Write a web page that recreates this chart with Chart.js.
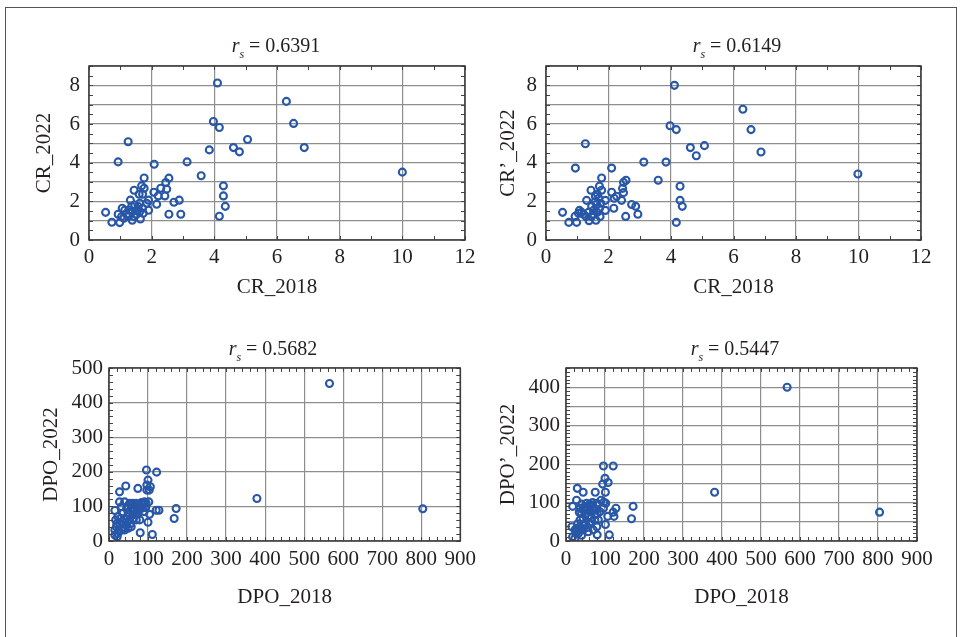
<!DOCTYPE html>
<html>
<head>
<meta charset="utf-8">
<script src="https://cdn.jsdelivr.net/npm/chart.js@4.4.1/dist/chart.umd.min.js"></script>
<style>
  body { margin: 0; background: #fff; }
  #page { position: relative; width: 965px; height: 637px; overflow: hidden; background: #fff; }
  #frame { position: absolute; left: 5px; top: 7px; width: 950px; height: 700px; border: 1.5px solid #555; }
  canvas { position: absolute; }
</style>
</head>
<body>
<div id="page">
  <div id="frame"></div>
  <canvas id="c1" width="482" height="318" style="left:0;top:0"></canvas>
  <canvas id="c2" width="483" height="318" style="left:482px;top:0"></canvas>
  <canvas id="c3" width="482" height="319" style="left:0;top:318px"></canvas>
  <canvas id="c4" width="483" height="319" style="left:482px;top:318px"></canvas>
</div>
<script>
// Panel titles (Spearman coefficients)
const rsValues = ['0.6391', '0.6149', '0.5682', '0.5447'];

// Axis titles
const xTitles = ['CR_2018', 'CR_2018', 'DPO_2018', 'DPO_2018'];
const yTitles = ['CR_2022', 'CR\u2019_2022', 'DPO_2022', 'DPO\u2019_2022'];

// Labelled tick values
const crXLabels = [0, 2, 4, 6, 8, 10, 12];
const crYLabels = [0, 2, 4, 6, 8];
const dpoXLabels = [0, 100, 200, 300, 400, 500, 600, 700, 800, 900];
const dpoYLabels = [0, 100, 200, 300, 400, 500];

// Panel 1: CR_2018 vs CR_2022
const cr2018A = [4.10, 6.30, 6.53, 6.87, 10.0, 3.97, 4.16, 5.06, 4.61, 4.80, 3.84, 1.25, 0.93, 2.08, 3.13,
  3.58, 4.29, 4.29, 4.35, 4.16, 2.55, 2.45, 2.48, 2.29, 2.07, 2.21, 2.42, 2.16, 2.71, 2.88,
  2.55, 2.93, 1.76, 1.76, 1.68, 1.44, 1.71, 1.60, 1.32, 1.90, 1.90, 0.53, 0.73, 0.98, 0.93,
  1.06, 1.14, 1.20, 1.38, 1.64, 1.52, 1.46, 1.62, 1.71, 1.54, 1.39, 1.28, 1.04, 1.11, 1.62,
  1.73, 1.57, 1.44, 1.25, 1.36, 1.84];
const cr2022 = [8.12, 7.17, 6.03, 4.78, 3.51, 6.13, 5.82, 5.20, 4.78, 4.56, 4.66, 5.08, 4.04, 3.92, 4.04,
  3.32, 2.80, 2.28, 1.74, 1.23, 3.20, 2.97, 2.63, 2.68, 2.47, 2.28, 2.28, 1.85, 1.95, 2.06,
  1.33, 1.33, 3.21, 2.68, 2.80, 2.57, 2.37, 2.37, 2.06, 2.06, 1.54, 1.43, 0.92, 0.90, 1.33,
  1.64, 1.54, 1.33, 1.02, 1.09, 1.33, 1.81, 1.90, 1.64, 1.55, 1.47, 1.55, 1.21, 1.12, 1.47,
  1.38, 1.73, 1.21, 1.21, 1.73, 1.90];

// Panel 2: CR_2018 vs CR'_2022
const cr2018B = [4.11, 6.30, 6.56, 6.88, 9.98, 3.97, 4.17, 5.07, 4.62, 4.81, 3.84, 3.13, 3.59, 4.29, 4.29,
  4.36, 4.17, 1.26, 0.94, 2.10, 1.78, 2.56, 2.48, 2.45, 2.48, 2.10, 2.26, 2.18, 2.42, 2.74,
  2.87, 2.94, 2.55, 2.17, 1.90, 1.90, 1.71, 1.44, 1.78, 1.65, 1.58, 1.30, 1.69, 0.53, 0.73,
  0.98, 0.93, 1.07, 1.14, 1.04, 1.20, 1.38, 1.60, 1.73, 1.52, 1.46, 1.62, 1.71, 1.52, 1.36,
  1.28, 1.64, 1.46, 1.75, 1.57];
const crPrime2022 = [8.00, 6.76, 5.71, 4.55, 3.41, 5.91, 5.71, 4.88, 4.78, 4.36, 4.03, 4.03, 3.09, 2.78, 2.05,
  1.74, 0.91, 4.98, 3.72, 3.72, 3.21, 3.09, 2.98, 2.67, 2.45, 2.47, 2.26, 2.16, 2.05, 1.84,
  1.74, 1.33, 1.22, 1.64, 2.05, 1.53, 2.78, 2.57, 2.57, 2.36, 2.26, 2.05, 2.16, 1.43, 0.91,
  0.91, 1.22, 1.53, 1.43, 1.38, 1.33, 1.00, 1.02, 1.21, 1.33, 1.74, 1.84, 1.64, 1.53, 1.43,
  1.22, 1.43, 1.21, 1.90, 1.98];

// Panel 3: DPO_2018 vs DPO_2022
const dpo2018A = [565, 379, 804, 172, 167, 122, 96, 100, 97, 106, 97, 103, 74, 43, 27,
  27, 15, 17, 15, 21, 80, 111, 100, 104, 121, 128, 40, 53, 61, 70,
  83, 87, 91, 102, 32, 45, 57, 66, 79, 94, 36, 49, 61, 74, 23,
  40, 53, 70, 79, 27, 45, 57, 19, 32, 40, 23, 15, 49,
  35, 48, 60, 65, 72, 85, 90, 55, 30, 38, 62, 68, 25, 20, 47, 58, 75, 95];
const dpo2022 = [455, 123, 93, 94, 65, 199, 205, 176, 162, 157, 147, 147, 152, 159, 142,
  113, 88, 61, 17, 12, 24, 19, 54, 77, 89, 89, 113, 109, 109, 109,
  111, 109, 113, 113, 99, 94, 97, 91, 94, 97, 80, 82, 75, 78, 70,
  65, 61, 61, 61, 51, 46, 41, 41, 32, 32, 22, 32, 37,
  55, 70, 90, 105, 100, 95, 85, 50, 65, 40, 65, 78, 30, 50, 100, 105, 88, 110];

// Panel 4: DPO_2018 vs DPO'_2022
const dpo2018B = [567, 381, 804, 172, 168, 121, 96, 111, 80, 101, 107, 123, 121, 128, 100,
  108, 94, 101, 75, 44, 29, 27, 17, 34, 40, 15, 17, 23, 74, 90,
  97, 102, 96, 53, 66, 79, 70, 62, 74, 57, 44, 36, 40, 49, 66,
  79, 36, 27, 44, 57, 32, 70, 83, 87, 62, 36, 23, 40,
  45, 55, 60, 70, 75, 50, 65, 30, 45, 55, 25, 35, 80, 68, 48, 60];
const dpoPrime2022 = [400, 127, 75, 90, 58, 195, 195, 16, 16, 43, 64, 64, 75, 85, 163,
  152, 148, 127, 127, 127, 137, 106, 90, 75, 96, 37, 11, 7, 54, 106,
  101, 98, 85, 98, 94, 98, 81, 76, 68, 64, 59, 85, 72, 46, 50,
  37, 37, 33, 29, 24, 20, 29, 55, 76, 89, 55, 29, 15,
  80, 85, 95, 90, 80, 70, 60, 45, 40, 35, 20, 28, 70, 100, 90, 45];

const FONT = "'Liberation Serif', 'Times New Roman', serif";
const INK = '#231f20';
const BLUE = '#2857a8';

// frame, inward minor ticks and the r_s title
const panelDeco = {
  id: 'panelDeco',
  afterDraw(chart, args, opts) {
    const { ctx, chartArea: a, scales: { x, y } } = chart;
    ctx.save();
    ctx.strokeStyle = '#444';
    ctx.lineWidth = 1;
    ctx.beginPath();
    for (let v = x.min; v <= x.max + 1e-9; v += opts.xMinor) {
      const px = Math.round(x.getPixelForValue(v)) + 0.5;
      ctx.moveTo(px, a.bottom); ctx.lineTo(px, a.bottom - 4);
      ctx.moveTo(px, a.top); ctx.lineTo(px, a.top + 4);
    }
    for (let v = y.min; v <= y.max + 1e-9; v += opts.yMinor) {
      const py = Math.round(y.getPixelForValue(v)) + 0.5;
      ctx.moveTo(a.left, py); ctx.lineTo(a.left + 4, py);
      ctx.moveTo(a.right, py); ctx.lineTo(a.right - 4, py);
    }
    ctx.stroke();
    ctx.lineWidth = 1.5;
    ctx.strokeStyle = '#3a3a3a';
    ctx.strokeRect(a.left, a.top, a.right - a.left, a.bottom - a.top);

    // title: italic r, subscript s, then " = value"
    const big = 'italic 20px ' + FONT;
    const small = 'italic 12px ' + FONT;
    const plain = '20px ' + FONT;
    const rest = ' = ' + opts.value;
    ctx.font = big; const wr = ctx.measureText('r').width;
    ctx.font = small; const ws = ctx.measureText('s').width;
    ctx.font = plain; const wt = ctx.measureText(rest).width;
    let tx = opts.titleX - (wr + ws + wt) / 2;
    const ty = opts.titleY;
    ctx.fillStyle = INK;
    ctx.textBaseline = 'alphabetic';
    ctx.textAlign = 'left';
    ctx.font = big; ctx.fillText('r', tx, ty); tx += wr;
    ctx.font = small; ctx.fillText('s', tx, ty + 6); tx += ws;
    ctx.font = plain; ctx.fillText(rest, tx, ty);
    ctx.restore();
  }
};

function makePanel(id, xs, ys, p) {
  const points = xs.map((v, i) => ({ x: v, y: ys[i] }));
  return new Chart(document.getElementById(id), {
    type: 'scatter',
    data: {
      datasets: [{
        data: points,
        pointStyle: 'circle',
        pointRadius: 3.5,
        pointBorderWidth: 2.1,
        borderColor: BLUE,
        backgroundColor: 'rgba(255,255,255,0)',
        pointHoverRadius: 3.5
      }]
    },
    options: {
      responsive: false,
      animation: false,
      layout: { padding: { top: p.top, right: p.right, left: 0, bottom: 0 } },
      plugins: {
        legend: { display: false },
        tooltip: { enabled: false },
        panelDeco: { xMinor: p.xMinor, yMinor: p.yMinor, value: p.value, titleX: p.titleX, titleY: p.titleY }
      },
      scales: {
        x: {
          type: 'linear', min: 0, max: p.xMax,
          afterFit: s => { s.height = p.xAxisH; },
          grid: { color: '#8e8e8e', lineWidth: 1.2, drawTicks: false },
          border: { display: false },
          ticks: {
            stepSize: p.xStep, autoSkip: false, maxRotation: 0, minRotation: 0,
            padding: p.xTickPad, color: INK, font: { family: FONT, size: 21 },
            callback: v => p.xLabels.includes(v) ? String(v) : ''
          },
          title: {
            display: true, text: p.xTitle, color: INK,
            font: { family: FONT, size: 21 },
            padding: { top: 0, bottom: p.xTitlePad }
          }
        },
        y: {
          type: 'linear', min: 0, max: p.yMax,
          afterFit: s => { s.width = p.yAxisW; },
          grid: { color: '#8e8e8e', lineWidth: 1.2, drawTicks: false },
          border: { display: false },
          ticks: {
            stepSize: p.yStep, autoSkip: false,
            padding: p.yTickPad, color: INK, font: { family: FONT, size: 21 },
            callback: v => p.yLabels.includes(v) ? String(v) : ''
          },
          title: {
            display: true, text: p.yTitle, color: INK,
            font: { family: FONT, size: 21 },
            padding: { top: p.yTitlePad, bottom: 0 }
          }
        }
      }
    },
    plugins: [panelDeco]
  });
}

makePanel('c1', cr2018A, cr2022, {
  top: 66, right: 17, yAxisW: 89, xAxisH: 78, xMax: 12, yMax: 9, xStep: 2, yStep: 1,
  xMinor: 1, yMinor: 0.5, xLabels: crXLabels, yLabels: crYLabels,
  xTickPad: 5, yTickPad: 9, xTitlePad: 18, yTitlePad: 32,
  xTitle: xTitles[0], yTitle: yTitles[0], value: rsValues[0], titleX: 276, titleY: 52
});
makePanel('c2', cr2018B, crPrime2022, {
  top: 66, right: 44, yAxisW: 64, xAxisH: 78, xMax: 12, yMax: 9, xStep: 2, yStep: 1,
  xMinor: 1, yMinor: 0.5, xLabels: crXLabels, yLabels: crYLabels,
  xTickPad: 5, yTickPad: 9, xTitlePad: 18, yTitlePad: 14,
  xTitle: xTitles[1], yTitle: yTitles[1], value: rsValues[1], titleX: 255, titleY: 52
});
makePanel('c3', dpo2018A, dpo2022, {
  top: 50, right: 21, yAxisW: 109, xAxisH: 96, xMax: 900, yMax: 500, xStep: 100, yStep: 100,
  xMinor: 20, yMinor: 20, xLabels: dpoXLabels, yLabels: dpoYLabels,
  xTickPad: 6, yTickPad: 6, xTitlePad: 27, yTitlePad: 39,
  xTitle: xTitles[2], yTitle: yTitles[2], value: rsValues[2], titleX: 273, titleY: 37
});
makePanel('c4', dpo2018B, dpoPrime2022, {
  top: 50, right: 48, yAxisW: 84, xAxisH: 96, xMax: 900, yMax: 450, xStep: 100, yStep: 50,
  xMinor: 20, yMinor: 10, xLabels: dpoXLabels, yLabels: dpoYLabels,
  xTickPad: 6, yTickPad: 6, xTitlePad: 27, yTitlePad: 14,
  xTitle: xTitles[3], yTitle: yTitles[3], value: rsValues[3], titleX: 253, titleY: 37
});
</script>
</body>
</html>
